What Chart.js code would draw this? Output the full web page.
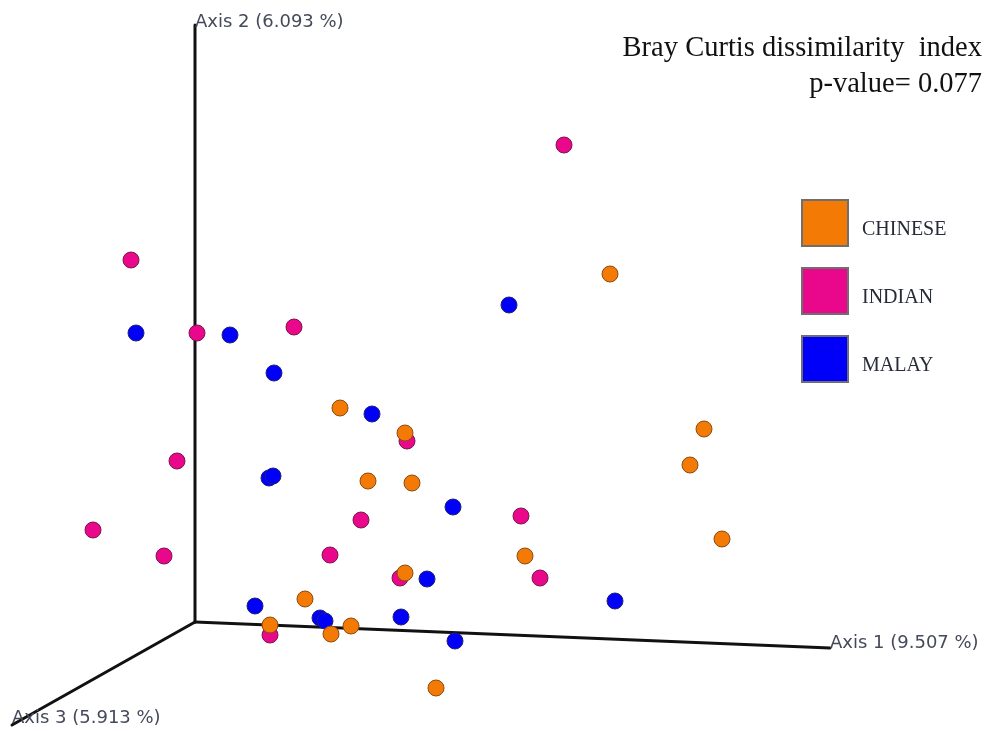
<!DOCTYPE html>
<html>
<head>
<meta charset="utf-8">
<script src="https://cdn.jsdelivr.net/npm/chart.js@4/dist/chart.umd.min.js"></script>
<style>
  html, body { margin: 0; padding: 0; background: #fff; }
  #wrap { width: 992px; height: 731px; }
</style>
</head>
<body>
<div id="wrap"><canvas id="pcoa"></canvas></div>
<script>
// projected PCoA coordinates (screen units of the 3D view)
const chineseX = [610, 340, 405, 368, 412, 704, 690, 722, 525, 305, 436, 331, 351, 405, 270];
const chineseY = [274, 408, 433, 481, 483, 429, 465, 539, 556, 599, 688, 634, 626, 573, 625];
const indianX = [564, 131, 197, 294, 407, 177, 93, 164, 361, 330, 400, 521, 540, 270];
const indianY = [145, 260, 333, 327, 441, 461, 530, 556, 520, 555, 578, 516, 578, 635];
const malayX = [136, 230, 509, 274, 372, 269, 273, 453, 427, 615, 255, 320, 325, 401, 455];
const malayY = [333, 335, 305, 373, 414, 478, 476, 507, 579, 601, 606, 618, 621, 617, 641];

const groups = ['CHINESE', 'INDIAN', 'MALAY'];
const fills = ['#f27a05', '#e9078b', '#0000fa'];
const edges = ['#8a4b12', '#7d1448', '#20207a'];

// axis triad in the same projected units
const axisOrigin = [195, 622];
const axisEnds = [[830, 648], [195, 25], [12, 725]];
const axisNames = ['Axis 1 (9.507 %)', 'Axis 2 (6.093 %)', 'Axis 3 (5.913 %)'];

const titleLines = ['Bray Curtis dissimilarity  index', 'p-value= 0.077'];

function pts(xs, ys) {
    return xs.map((x, i) => ({ x: x, y: ys[i] }));
}

const triad = {
    id: 'triad',
    beforeDatasetsDraw(chart) {
        const c = chart.ctx, sx = chart.scales.x, sy = chart.scales.y;
        const ox = sx.getPixelForValue(axisOrigin[0]), oy = sy.getPixelForValue(axisOrigin[1]);
        c.save();
        c.strokeStyle = '#111';
        c.lineWidth = 3;
        c.lineCap = 'round';
        axisEnds.forEach(e => {
            c.beginPath();
            c.moveTo(ox, oy);
            c.lineTo(sx.getPixelForValue(e[0]), sy.getPixelForValue(e[1]));
            c.stroke();
        });
        c.font = '18px "DejaVu Sans", Verdana, sans-serif';
        c.fillStyle = '#454a5a';
        c.textBaseline = 'middle';
        c.textAlign = 'left';
        const ex = axisEnds.map(e => [sx.getPixelForValue(e[0]), sy.getPixelForValue(e[1])]);
        c.fillText(axisNames[0], ex[0][0], ex[0][1] - 5);
        c.fillText(axisNames[1], ex[1][0], ex[1][1] - 3);
        c.fillText(axisNames[2], ex[2][0], ex[2][1] - 7);
        c.restore();
    },
    afterDraw(chart) {
        const c = chart.ctx;
        c.save();
        c.fillStyle = '#111';
        c.textAlign = 'right';
        c.textBaseline = 'alphabetic';
        c.font = '28.5px "Liberation Serif", "Times New Roman", serif';
        c.fillText(titleLines[0], 982, 56);
        c.fillText(titleLines[1], 982, 92);

        c.font = '20px "Liberation Serif", "Times New Roman", serif';
        c.textAlign = 'left';
        groups.forEach((g, i) => {
            const top = 200 + i * 68;
            c.fillStyle = fills[i];
            c.fillRect(802, top, 46, 46);
            c.strokeStyle = '#6f6f6f';
            c.lineWidth = 2;
            c.strokeRect(802, top, 46, 46);
            c.fillStyle = '#262b38';
            c.fillText(g, 862, top + 35);
        });
        c.restore();
    }
};

const ctx = document.getElementById('pcoa').getContext('2d');
const pcoa = new Chart(ctx, {
    type: 'scatter',
    data: {
        datasets: [
            { label: groups[0], data: pts(chineseX, chineseY), backgroundColor: fills[0], borderColor: edges[0] },
            { label: groups[1], data: pts(indianX, indianY), backgroundColor: fills[1], borderColor: edges[1] },
            { label: groups[2], data: pts(malayX, malayY), backgroundColor: fills[2], borderColor: edges[2] }
        ]
    },
    options: {
        responsive: true,
        maintainAspectRatio: false,
        animation: false,
        layout: { padding: 0, autoPadding: false },
        elements: { point: { radius: 8, borderWidth: 1, hoverRadius: 8 } },
        plugins: { legend: { display: false }, tooltip: { enabled: false } },
        scales: {
            x: { type: 'linear', min: 0, max: 992, display: false },
            y: { type: 'linear', min: 0, max: 731, reverse: true, display: false }
        }
    },
    plugins: [triad]
});
</script>
</body>
</html>
